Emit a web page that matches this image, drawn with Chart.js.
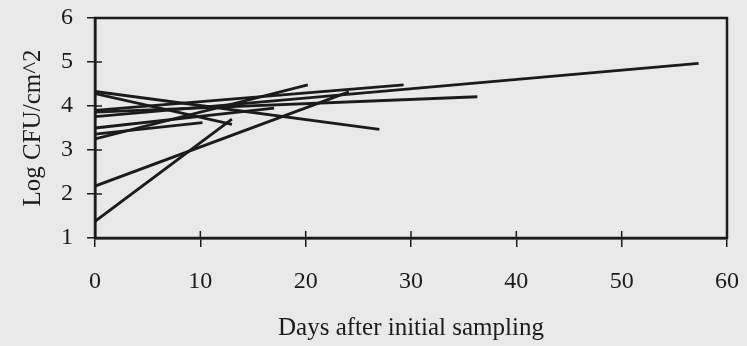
<!DOCTYPE html>
<html>
<head>
<meta charset="utf-8">
<script src="https://cdn.jsdelivr.net/npm/chart.js@4"></script>
<style>
  body { margin: 0; background: #e9e9e9; }
  #wrap { width: 747px; height: 346px; }
</style>
</head>
<body>
<div id="wrap"><canvas id="cfuChart" width="747" height="346"></canvas></div>
<script>
const sampleDays = [
    [0, 27],
    [0, 13],
    [0, 57.3],
    [0, 36.3],
    [0, 29.3],
    [0, 20.2],
    [0, 24.1],
    [0, 13],
    [0, 10.2],
    [0, 17]
];
const logCounts = [
    [4.33, 3.47],
    [4.28, 3.58],
    [3.76, 4.97],
    [3.86, 4.21],
    [3.9, 4.48],
    [3.25, 4.48],
    [2.18, 4.32],
    [1.38, 3.7],
    [3.36, 3.62],
    [3.5, 3.95]
];
const xTicks = [0, 10, 20, 30, 40, 50, 60];
const yTicks = [1, 2, 3, 4, 5, 6];

const serif = "'Liberation Serif', 'Times New Roman', serif";

// build one dataset per line
const datasets = sampleDays.map((days, i) => ({
    data: days.map((d, j) => ({ x: d, y: logCounts[i][j] })),
    showLine: true,
    borderColor: '#1b1b1b',
    borderWidth: 2.8,
    pointRadius: 0,
    fill: false,
    tension: 0
}));

// box around the plot plus ticks that cross the axes
const frameBox = {
    id: 'frameBox',
    afterDraw(chart) {
        const { ctx, chartArea: a, scales } = chart;
        ctx.save();
        ctx.strokeStyle = '#1b1b1b';
        ctx.lineWidth = 2.5;
        ctx.strokeRect(a.left, a.top, a.right - a.left, a.bottom - a.top);
        ctx.lineWidth = 1.5;
        yTicks.forEach(v => {
            const py = scales.y.getPixelForValue(v);
            ctx.beginPath();
            ctx.moveTo(a.left, py);
            ctx.lineTo(a.left + 7, py);
            ctx.stroke();
        });
        xTicks.forEach(v => {
            const px = scales.x.getPixelForValue(v);
            ctx.beginPath();
            ctx.moveTo(px, a.bottom);
            ctx.lineTo(px, a.bottom - 7);
            ctx.stroke();
        });
        ctx.restore();
    }
};

const ctx = document.getElementById('cfuChart').getContext('2d');
new Chart(ctx, {
    type: 'scatter',
    data: { datasets: datasets },
    options: {
        responsive: false,
        animation: false,
        layout: { padding: { top: 18, right: 20, left: 0, bottom: 0 } },
        plugins: { legend: { display: false }, tooltip: { enabled: false } },
        scales: {
            x: {
                type: 'linear',
                min: 0,
                max: 60,
                afterBuildTicks: s => { s.ticks = xTicks.map(v => ({ value: v })); },
                afterFit: s => { s.height = 108; s.paddingLeft = 0; s.paddingRight = 0; },
                grid: { drawOnChartArea: false, drawTicks: true, tickLength: 9, color: '#1b1b1b', lineWidth: 1.5 },
                border: { display: true, color: '#1b1b1b', width: 2.5 },
                ticks: { color: '#1b1b1b', padding: 20, maxRotation: 0, font: { family: serif, size: 24 } },
                title: {
                    display: true,
                    text: 'Days after initial sampling',
                    color: '#1b1b1b',
                    padding: { bottom: 3 },
                    font: { family: serif, size: 25 }
                }
            },
            y: {
                type: 'linear',
                min: 1,
                max: 6,
                afterBuildTicks: s => { s.ticks = yTicks.map(v => ({ value: v })); },
                afterFit: s => { s.width = 95; s.paddingTop = 0; s.paddingBottom = 0; },
                grid: { drawOnChartArea: false, drawTicks: true, tickLength: 8, color: '#1b1b1b', lineWidth: 1.5 },
                border: { display: true, color: '#1b1b1b', width: 2.5 },
                ticks: { color: '#1b1b1b', padding: 14, font: { family: serif, size: 24 } },
                title: {
                    display: true,
                    text: 'Log CFU/cm^2',
                    color: '#1b1b1b',
                    padding: { top: 18 },
                    font: { family: serif, size: 25 }
                }
            }
        }
    },
    plugins: [frameBox]
});
</script>
</body>
</html>
